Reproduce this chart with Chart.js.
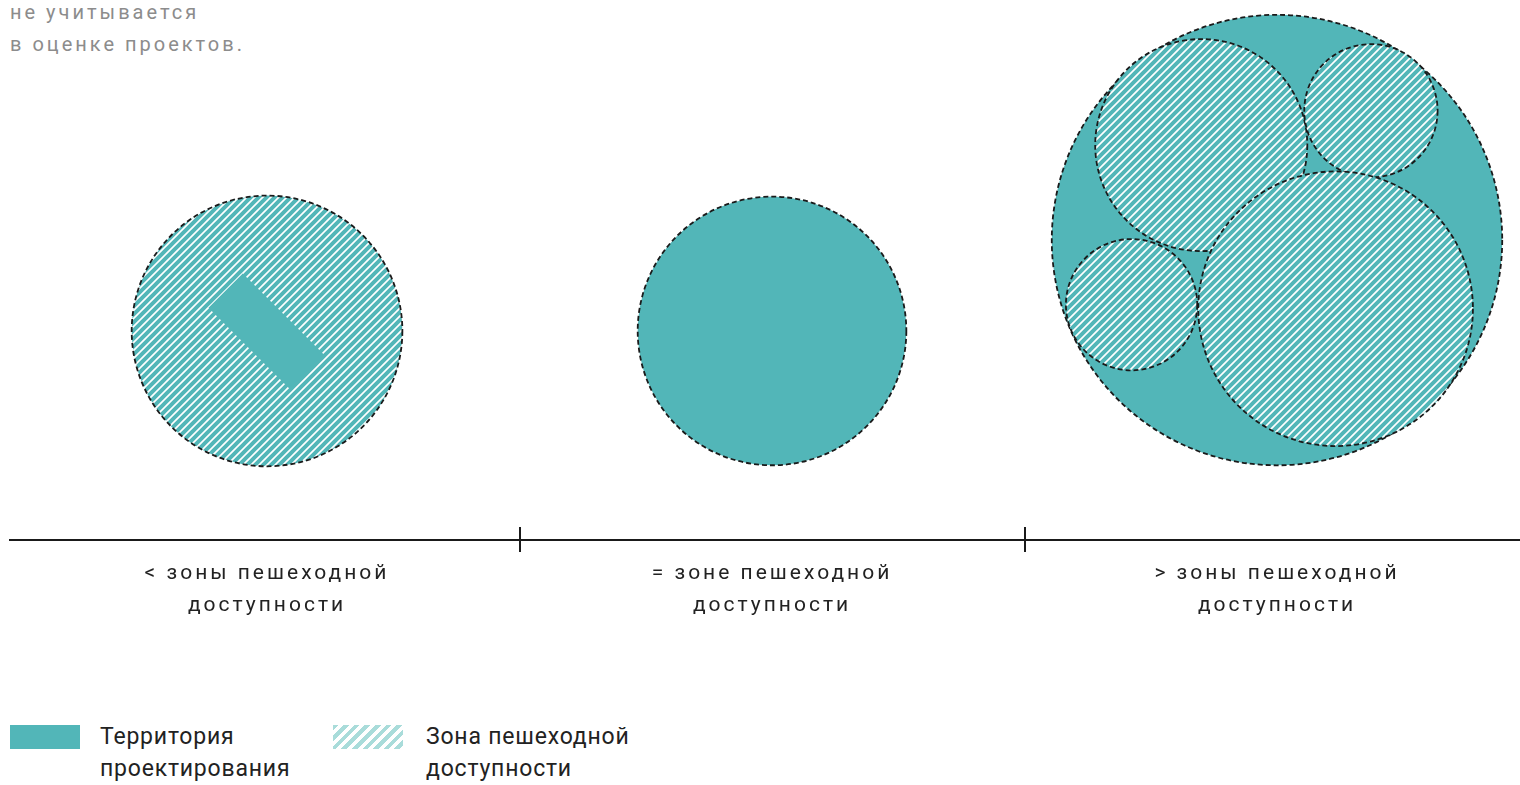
<!DOCTYPE html>
<html lang="ru">
<head>
<meta charset="utf-8">
<title>Территория проектирования и зона пешеходной доступности</title>
<script src="https://cdn.jsdelivr.net/npm/chart.js@4"></script>
<style>
  html, body { margin: 0; padding: 0; background: #fff; }
  body { width: 1520px; height: 785px; position: relative; overflow: hidden; font-family: Roboto, 'Noto Sans', sans-serif; }
  #wrap { position: absolute; left: 0; top: 0; width: 1520px; height: 660px; }
  .note { position: absolute; left: 10px; top: -4px; font-size: 20px; line-height: 32px; letter-spacing: 3px; color: #8c8c8c; white-space: pre-line; }
  #legend { position: absolute; left: 0; top: 721px; }
  .item { position: absolute; top: 0; }
  .swatch { position: absolute; top: 4px; width: 70px; height: 24px; }
  .item span { position: absolute; top: 0; font-size: 23px; line-height: 32px; letter-spacing: 0.8px; color: #222; white-space: pre; }
</style>
</head>
<body>
<div class="note">не учитывается
в оценке проектов.</div>
<div id="wrap"><canvas id="chart"></canvas></div>
<div id="legend"></div>

<script>
// categories along the axis (x units: 5 per category)
const categories = [
  ['< зоны пешеходной', 'доступности'],
  ['= зоне пешеходной', 'доступности'],
  ['> зоны пешеходной', 'доступности']
];
const categoryX = [0, 5, 10];

// territory of the project (solid)
const territoryX = [5.0, 10.0];
const territoryY = [2.07, 2.97];
const territoryR = [1.33, 2.23];

// walking-distance zones (hatched)
const zoneX = [0, 9.25, 10.93, 8.56, 10.58];
const zoneY = [2.07, 3.91, 4.25, 2.33, 2.29];
const zoneR = [1.34, 1.05, 0.66, 0.65, 1.36];

// small plot inside the first zone
const plotX = [-0.41, 0.41];
const plotY = [2.47, 1.65];
const plotWidth = 0.48;

const TEAL = '#52b6b8';
const TEAL_LIGHT = '#a9dcda';

function hatch(color, p, w) {
  const c = document.createElement('canvas');
  c.width = c.height = p;
  const g = c.getContext('2d');
  g.fillStyle = '#fff';
  g.fillRect(0, 0, p, p);
  g.strokeStyle = color;
  g.lineWidth = w;
  g.beginPath();
  g.moveTo(-p, p); g.lineTo(p, -p);
  g.moveTo(0, p); g.lineTo(p, 0);
  g.moveTo(0, 2 * p); g.lineTo(2 * p, 0);
  g.stroke();
  return g.createPattern(c, 'repeat');
}

// length in data units -> pixels, through the x scale
const toPx = (chart, d) => {
  const s = chart.scales && chart.scales.x;
  if (!s) return 0;
  const v = Math.abs(s.getPixelForValue(d) - s.getPixelForValue(0));
  return isFinite(v) ? v : 0;
};

const points = (xs, ys, rs) => xs.map((x, i) => ({ x, y: ys[i], size: rs ? rs[i] : 0 }));

const circles = {
  id: 'circles',
  // bubble radius given in data units, not pixels
  afterDatasetUpdate(chart, args) {
    const ds = chart.data.datasets[args.index];
    if (ds.type !== 'bubble') return;
    args.meta.data.forEach((el, i) => {
      el.options = Object.assign({}, el.options, { radius: toPx(chart, ds.data[i].size) });
    });
  },
  beforeDraw(chart) { chart.ctx.letterSpacing = '3px'; },
  beforeDatasetDraw(chart, args) {
    if (chart.data.datasets[args.index].type === 'bubble') chart.ctx.setLineDash([5, 3]);
  },
  afterDatasetDraw(chart) { chart.ctx.setLineDash([]); },
  afterDraw(chart) {
    const ctx = chart.ctx, x = chart.scales.x, y0 = chart.chartArea.bottom;
    ctx.save();
    ctx.letterSpacing = '0px';
    ctx.strokeStyle = '#1a1a1a';
    ctx.lineWidth = 2;
    for (let i = 0; i < categoryX.length - 1; i++) {
      const px = Math.round(x.getPixelForValue((categoryX[i] + categoryX[i + 1]) / 2));
      ctx.beginPath();
      ctx.moveTo(px, y0 - 13);
      ctx.lineTo(px, y0 + 12);
      ctx.stroke();
    }
    ctx.restore();
  }
};

const chart = new Chart(document.getElementById('chart'), {
  type: 'bubble',
  data: {
    datasets: [
      {
        type: 'line',
        label: 'Территория\nпроектирования',
        data: points(plotX, plotY),
        borderColor: TEAL,
        borderWidth: c => toPx(c.chart, plotWidth),
        borderCapStyle: 'butt',
        pointRadius: 0,
        order: 1
      },
      {
        type: 'bubble',
        label: 'Зона пешеходной\nдоступности',
        data: points(zoneX, zoneY, zoneR),
        backgroundColor: hatch(TEAL, 8, 4),
        borderColor: '#1a1a1a',
        borderWidth: 1.8,
        order: 2
      },
      {
        type: 'bubble',
        label: 'Территория\nпроектирования',
        data: points(territoryX, territoryY, territoryR),
        backgroundColor: TEAL,
        borderColor: '#1a1a1a',
        borderWidth: 1.8,
        order: 3
      }
    ]
  },
  options: {
    responsive: true,
    maintainAspectRatio: false,
    animation: false,
    events: [],
    layout: { autoPadding: false, padding: { left: 10, right: 0, top: 0, bottom: 0 } },
    plugins: { legend: { display: false }, tooltip: { enabled: false } },
    scales: {
      x: {
        type: 'linear',
        min: -2.545,
        max: 12.406,
        afterBuildTicks: axis => { axis.ticks = categoryX.map(v => ({ value: v })); },
        afterFit: axis => { axis.height = 120; },
        grid: { display: false, drawTicks: false, tickLength: 0 },
        border: { display: true, color: '#1a1a1a', width: 2 },
        ticks: {
          autoSkip: false,
          maxRotation: 0,
          padding: 18,
          color: '#222',
          font: { family: 'Roboto', size: 21, lineHeight: 1.5 },
          callback: v => categories[categoryX.indexOf(v)]
        }
      },
      y: { type: 'linear', min: 0, max: 5.347, display: false }
    }
  },
  plugins: [circles]
});

// legend built from the two bubble datasets
const legend = document.getElementById('legend');
const legendLeft = [[10, 100], [333, 426]];
[chart.data.datasets[2], chart.data.datasets[1]].forEach((ds, i) => {
  const item = document.createElement('div');
  item.className = 'item';
  const sw = document.createElement('div');
  sw.className = 'swatch';
  sw.style.left = legendLeft[i][0] + 'px';
  sw.style.background = i === 0 ? TEAL
    : 'repeating-linear-gradient(135deg, ' + TEAL_LIGHT + ' 0 4px, #fff 4px 7.5px)';
  const txt = document.createElement('span');
  txt.style.left = legendLeft[i][1] + 'px';
  txt.textContent = ds.label;
  item.appendChild(sw);
  item.appendChild(txt);
  legend.appendChild(item);
});
</script>
</body>
</html>
